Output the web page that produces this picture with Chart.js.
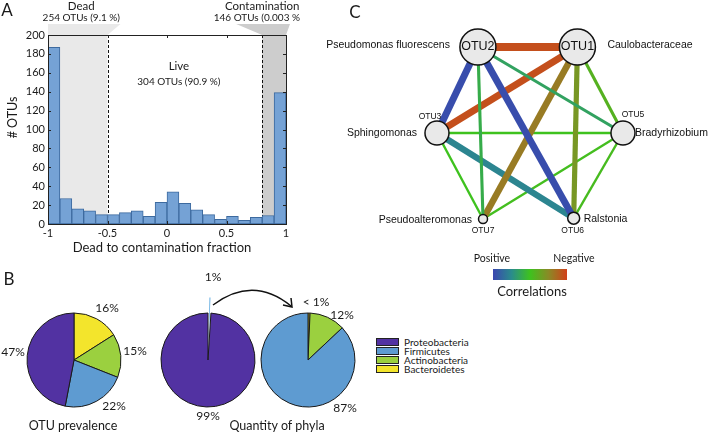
<!DOCTYPE html>
<html>
<head>
<meta charset="utf-8">
<script src="https://cdn.jsdelivr.net/npm/chart.js@4.4.1/dist/chart.umd.min.js"></script>
<style>
  body { margin: 0; background: #fff; font-family: Lato, sans-serif; color: #1a1a1a; }
  #wrap { position: relative; width: 709px; height: 432px; overflow: hidden; }
  canvas { position: absolute; }
  .txt { position: absolute; white-space: nowrap; line-height: 1; transform: translate(-50%, -50%); }
  .panel { font-size: 17px; }
  .legend { position: absolute; left: 376px; top: 337px; font-size: 10px; }
  .legend div { height: 9px; display: flex; align-items: center; }
  .legend span.box { width: 21px; height: 6px; border: 1px solid #222; margin-right: 5px; }
</style>
</head>
<body>
<div id="wrap">
  <canvas id="histCanvas" width="300" height="262" style="left:0;top:0"></canvas>
  <canvas id="pieOtu" width="148" height="140" style="left:0;top:290px"></canvas>
  <canvas id="pieQuantity" width="190" height="180" style="left:113px;top:270px"></canvas>
  <canvas id="pieOther" width="120" height="140" style="left:248px;top:290px"></canvas>
  <canvas id="netCanvas" width="409" height="300" style="left:300px;top:0"></canvas>

  <div class="txt panel" style="left:7px;top:9px">A</div>
  <div class="txt panel" style="left:9px;top:278px">B</div>
  <div class="txt panel" style="left:355px;top:11px">C</div>
  <div class="txt" style="left:73px;top:426px;font-size:12.5px">OTU prevalence</div>
  <div class="txt" style="left:277px;top:426px;font-size:12.5px">Quantity of phyla</div>
  <div class="legend" id="phylaLegend"></div>
</div>

<script>
// ---- data ----
// A: histogram of dead-to-contamination fraction
const binCenters = [-0.95, -0.85, -0.75, -0.65, -0.55, -0.45, -0.35, -0.25, -0.15, -0.05,
                    0.05, 0.15, 0.25, 0.35, 0.45, 0.55, 0.65, 0.75, 0.85, 0.95]
const otuCounts = [187, 27, 16, 14, 10, 10, 12, 14, 8, 23, 34, 22, 15, 10, 5, 8, 4, 7, 9, 139]
const fractionTicks = [-1, -0.5, 0, 0.5, 1]
const deadLimit = -0.5
const contamLimit = 0.8

// B: phyla
const phyla = ['Proteobacteria', 'Firmicutes', 'Actinobacteria', 'Bacteroidetes']
const phylaColors = ['#5232a2', '#5e9bd1', '#9bd03f', '#f3e52c']
const otuPrevalence = [47, 22, 15, 16]
const quantityGroups = ['Proteobacteria', 'Other phyla']
const phylaQuantity = [99, 1]
const otherPhyla = ['Firmicutes', 'Actinobacteria', 'Bacteroidetes']
const otherQuantity = [87, 12.3, 0.7]

// C: correlation network
const nodeIds = ['OTU1', 'OTU2', 'OTU3', 'OTU5', 'OTU6', 'OTU7']
const nodeTaxa = ['Caulobacteraceae', 'Pseudomonas fluorescens', 'Sphingomonas', 'Bradyrhizobium', 'Ralstonia', 'Pseudoalteromonas']
const nodeX = [0.51, -0.56, -1, 1, 0.47, -0.505]
const nodeY = [1, 1, 0, 0, -0.99, -1]
const nodeSize = [18, 18, 12, 12, 6, 4.5]
const edgeFrom = ['OTU2', 'OTU2', 'OTU2', 'OTU2', 'OTU2', 'OTU1', 'OTU1', 'OTU1', 'OTU1', 'OTU3', 'OTU3', 'OTU3', 'OTU5', 'OTU5']
const edgeTo = ['OTU1', 'OTU3', 'OTU6', 'OTU5', 'OTU7', 'OTU3', 'OTU7', 'OTU6', 'OTU5', 'OTU5', 'OTU6', 'OTU7', 'OTU7', 'OTU6']
const edgeCorr = [-0.9, 0.95, 0.95, 0.3, 0.2, -0.9, -0.6, -0.38, -0.15, 0, 0.55, 0, -0.04, -0.06]
const edgeStrength = [1, 0.85, 0.85, 0.3, 0.3, 0.85, 0.8, 0.6, 0.3, 0.2, 0.75, 0.2, 0.2, 0.2]

const corrStops = [[0, '#3a46b0'], [0.25, '#2a8c8c'], [0.5, '#3ec21e'], [0.75, '#8a8a26'], [1, '#d2401a']]

Chart.defaults.font.family = 'Lato, sans-serif'
Chart.defaults.color = '#1a1a1a'
Chart.defaults.animation = false
Chart.defaults.responsive = false
Chart.defaults.events = []
Chart.defaults.plugins.legend.display = false
Chart.defaults.plugins.tooltip.enabled = false

// ---- A ----
const histDecor = {
    id: 'histDecor',
    beforeDraw(chart) {
        const {ctx, chartArea: a, scales: {x}} = chart
        ctx.save()
        ctx.fillStyle = '#e9e9e9'
        ctx.beginPath()
        ctx.moveTo(x.getPixelForValue(-1), a.top - 11)
        ctx.lineTo(x.getPixelForValue(deadLimit) + 13, a.top - 11)
        ctx.lineTo(x.getPixelForValue(deadLimit), a.top)
        ctx.lineTo(x.getPixelForValue(-1), a.top)
        ctx.fill()
        ctx.fillStyle = '#cdcdcd'
        ctx.beginPath()
        ctx.moveTo(x.getPixelForValue(contamLimit) - 26, a.top - 11)
        ctx.lineTo(x.getPixelForValue(1) + 4, a.top - 11)
        ctx.lineTo(x.getPixelForValue(1), a.top)
        ctx.lineTo(x.getPixelForValue(contamLimit), a.top)
        ctx.fill()
        ctx.restore()
    },
    beforeDatasetsDraw(chart) {
        const {ctx, chartArea: a, scales: {x}} = chart
        const xd = x.getPixelForValue(deadLimit)
        const xc = x.getPixelForValue(contamLimit)
        ctx.save()
        ctx.fillStyle = '#e9e9e9'
        ctx.fillRect(a.left, a.top, xd - a.left, a.height)
        ctx.fillStyle = '#cdcdcd'
        ctx.fillRect(xc, a.top, a.right - xc, a.height)
        ctx.strokeStyle = '#111'
        ctx.lineWidth = 1
        ctx.setLineDash([3, 2])
        ;[xd, xc].forEach(px => {
            ctx.beginPath()
            ctx.moveTo(Math.round(px) + 0.5, a.top)
            ctx.lineTo(Math.round(px) + 0.5, a.bottom)
            ctx.stroke()
        })
        ctx.restore()
    },
    afterDraw(chart) {
        const {ctx, chartArea: a, scales: {x, y}} = chart
        ctx.save()
        ctx.strokeStyle = '#222'
        ctx.lineWidth = 1
        ctx.strokeRect(a.left + 0.5, a.top + 0.5, a.width, a.height)
        ctx.beginPath()
        fractionTicks.forEach(v => {
            const px = Math.round(x.getPixelForValue(v)) + 0.5
            ctx.moveTo(px, a.top); ctx.lineTo(px, a.top + 3)
            ctx.moveTo(px, a.bottom); ctx.lineTo(px, a.bottom - 3)
        })
        y.ticks.forEach(t => {
            const py = Math.round(y.getPixelForValue(t.value)) + 0.5
            ctx.moveTo(a.left, py); ctx.lineTo(a.left + 3, py)
            ctx.moveTo(a.right, py); ctx.lineTo(a.right - 3, py)
        })
        ctx.stroke()

        ctx.fillStyle = '#1a1a1a'
        ctx.textAlign = 'center'
        ctx.textBaseline = 'middle'
        ctx.font = '13px Lato'
        ctx.fillText('Dead to contamination fraction', (a.left + a.right) / 2 - 5, a.bottom + 24)
        ctx.save()
        ctx.translate(13, (a.top + a.bottom) / 2 - 12)
        ctx.rotate(-Math.PI / 2)
        ctx.font = '12.5px Lato'
        ctx.fillText('# OTUs', 0, 0)
        ctx.restore()

        const xd = x.getPixelForValue(-0.72)
        const xc = x.getPixelForValue(contamLimit)
        const xl = x.getPixelForValue(0.1)
        ctx.font = '11.5px Lato'
        ctx.fillText('Dead', xd, a.top - 29)
        ctx.fillText('Contamination', xc, a.top - 29)
        ctx.fillText('Live', xl, a.top + 31)
        ctx.font = '10px Lato'
        ctx.fillText('254 OTUs (9.1 %)', xd, a.top - 17)
        ctx.fillText('146 OTUs (0.003 %)', xc - 4, a.top - 17)
        ctx.fillText('304 OTUs (90.9 %)', xl, a.top + 47)
        ctx.restore()
    }
}

new Chart(document.querySelector('#histCanvas'), {
    type: 'bar',
    data: {
        datasets: [{
            data: binCenters.map((c, i) => ({x: c, y: otuCounts[i]})),
            backgroundColor: '#75a2d5',
            borderColor: '#3d6a9f',
            borderWidth: 1,
            borderSkipped: false,
            barPercentage: 1,
            categoryPercentage: 1
        }]
    },
    options: {
        layout: {padding: {top: 35, right: 14}},
        scales: {
            x: {
                type: 'linear',
                min: -1,
                max: 1,
                offset: false,
                grid: {display: false, drawTicks: false, offset: false},
                border: {display: false},
                afterBuildTicks: s => { s.ticks = fractionTicks.map(v => ({value: v})) },
                ticks: {padding: 3, maxRotation: 0, font: {size: 11}, callback: v => String(v)},
                afterFit: s => { s.height = 38 }
            },
            y: {
                min: 0,
                max: 200,
                grid: {display: false, drawTicks: false},
                border: {display: false},
                ticks: {stepSize: 20, padding: 3, font: {size: 11}},
                afterFit: s => { s.width = 48 }
            }
        }
    },
    plugins: [histDecor]
})

// ---- B ----
const sliceLabels = {
    id: 'sliceLabels',
    afterDraw(chart, args, opts) {
        const {ctx} = chart
        const arc = chart.getDatasetMeta(0).data[0]
        const cx = arc.x, cy = arc.y
        const values = chart.data.datasets[0].data
        ctx.save()
        ctx.fillStyle = '#1a1a1a'
        ctx.font = '12px Lato'
        ctx.textAlign = 'center'
        ctx.textBaseline = 'middle'
        opts.offsets.forEach(([dx, dy], i) => {
            const v = values[i]
            ctx.fillText(v < 1 ? '< 1%' : Math.round(v) + '%', cx + dx, cy + dy)
        })
        if (opts.arrow) {
            ctx.strokeStyle = '#111'
            ctx.lineWidth = 1.5
            ctx.beginPath()
            ctx.moveTo(cx + 5, cy - 55)
            ctx.quadraticCurveTo(cx + 45, cy - 85, cx + 83, cy - 54)
            ctx.stroke()
            ctx.beginPath()
            ctx.moveTo(cx + 75, cy - 55)
            ctx.lineTo(cx + 84, cy - 53)
            ctx.lineTo(cx + 83, cy - 62)
            ctx.stroke()
        }
        ctx.restore()
    }
}

function colorOf(name) {
    return phylaColors[phyla.indexOf(name)]
}

function pieChart(selector, names, values, extra) {
    const ds = Object.assign({
        data: values,
        backgroundColor: names.map(colorOf),
        borderColor: '#1a1a1a',
        borderWidth: 1
    }, extra.dataset || {})
    return new Chart(document.querySelector(selector), {
        type: 'pie',
        data: {labels: names, datasets: [ds]},
        options: {
            radius: 47,
            plugins: {sliceLabels: extra.labels}
        },
        plugins: [sliceLabels]
    })
}

// slices run clockwise from the top, so the phyla order is reversed
pieChart('#pieOtu', phyla.slice().reverse(), otuPrevalence.slice().reverse(), {
    labels: {offsets: [[33, -52], [61, -9], [40, 46], [-61, -8]]}
})

pieChart('#pieQuantity', quantityGroups.slice().reverse(), phylaQuantity.slice().reverse(), {
    dataset: {
        backgroundColor: ['#66afe2', colorOf('Proteobacteria')],
        borderWidth: [0, 1],
        offset: [32, 0]
    },
    labels: {offsets: [[5, -83], [0, 56]], arrow: true}
})

pieChart('#pieOther', otherPhyla.slice().reverse(), otherQuantity.slice().reverse(), {
    labels: {offsets: [[8, -58], [34, -45], [37, 48]]}
})

document.querySelector('#phylaLegend').innerHTML = phyla.map((p, i) =>
    `<div><span class="box" style="background:${phylaColors[i]}"></span>${p}</div>`).join('')

// ---- C ----
function hexRgb(h) {
    return [1, 3, 5].map(i => parseInt(h.substr(i, 2), 16))
}

function corrColor(c) {
    const t = (1 - c) / 2
    for (let i = 1; i < corrStops.length; i++) {
        const [t0, c0] = corrStops[i - 1]
        const [t1, c1] = corrStops[i]
        if (t <= t1) {
            const f = (t - t0) / (t1 - t0)
            const a = hexRgb(c0), b = hexRgb(c1)
            return `rgb(${a.map((v, k) => Math.round(v + (b[k] - v) * f)).join(',')})`
        }
    }
    return corrStops[corrStops.length - 1][1]
}

const nodePoint = id => {
    const i = nodeIds.indexOf(id)
    return {x: nodeX[i], y: nodeY[i]}
}

const labelPlace = {
    OTU1: {id: [0, 0], taxon: [30, -2, 'left']},
    OTU2: {id: [0, 0], taxon: [-28, -2, 'right']},
    OTU3: {id: [-7, -16], taxon: [-20, 0, 'right']},
    OTU5: {id: [10, -18], taxon: [12, 0, 'left']},
    OTU6: {id: [-1, 13], taxon: [10, 1, 'left']},
    OTU7: {id: [0, 12], taxon: [-11, 1, 'right']}
}

const netLabels = {
    id: 'netLabels',
    afterDraw(chart) {
        const {ctx, scales: {x, y}} = chart
        ctx.save()
        ctx.fillStyle = '#111'
        ctx.textBaseline = 'middle'
        nodeIds.forEach((id, i) => {
            const px = x.getPixelForValue(nodeX[i])
            const py = y.getPixelForValue(nodeY[i])
            const p = labelPlace[id]
            ctx.textAlign = 'center'
            ctx.font = nodeSize[i] > 15 ? '12.5px "Liberation Sans"' : '8.5px "Liberation Sans"'
            ctx.fillText(id, px + p.id[0], py + p.id[1])
            ctx.textAlign = p.taxon[2]
            ctx.font = '10.5px "Liberation Sans"'
            ctx.fillText(nodeTaxa[i], px + p.taxon[0], py + p.taxon[1])
        })

        // colour bar
        const bx = 193, bw = 74, by = 269, bh = 11
        const grad = ctx.createLinearGradient(bx, 0, bx + bw, 0)
        corrStops.forEach(([t, c]) => grad.addColorStop(t, c))
        ctx.fillStyle = grad
        ctx.fillRect(bx, by, bw, bh)
        ctx.fillStyle = '#1a1a1a'
        ctx.textAlign = 'center'
        ctx.font = '10.5px Lato'
        ctx.fillText('Positive', bx - 1, by - 10)
        ctx.fillText('Negative', bx + bw + 7, by - 10)
        ctx.font = '13px Lato'
        ctx.fillText('Correlations', bx + bw / 2 + 2, by + 23)
        ctx.restore()
    }
}

const edgeSets = edgeFrom.map((f, i) => ({
    data: [nodePoint(f), nodePoint(edgeTo[i])],
    showLine: true,
    pointRadius: 0,
    borderColor: corrColor(edgeCorr[i]),
    borderWidth: 1 + 7 * edgeStrength[i],
    borderCapStyle: 'butt',
    clip: false,
    order: 1
}))

new Chart(document.querySelector('#netCanvas'), {
    type: 'scatter',
    data: {
        datasets: [{
            data: nodeIds.map(nodePoint),
            pointRadius: ctx => nodeSize[ctx.dataIndex],
            pointBackgroundColor: '#e9e9e9',
            pointBorderColor: '#111',
            pointBorderWidth: 1.5,
            clip: false,
            order: 0
        }].concat(edgeSets)
    },
    options: {
        layout: {padding: 0, autoPadding: false},
        scales: {
            x: {display: false, min: -2.473, max: 1.925},
            y: {display: false, min: -1.942, max: 1.547}
        }
    },
    plugins: [netLabels]
})
</script>
</body>
</html>
